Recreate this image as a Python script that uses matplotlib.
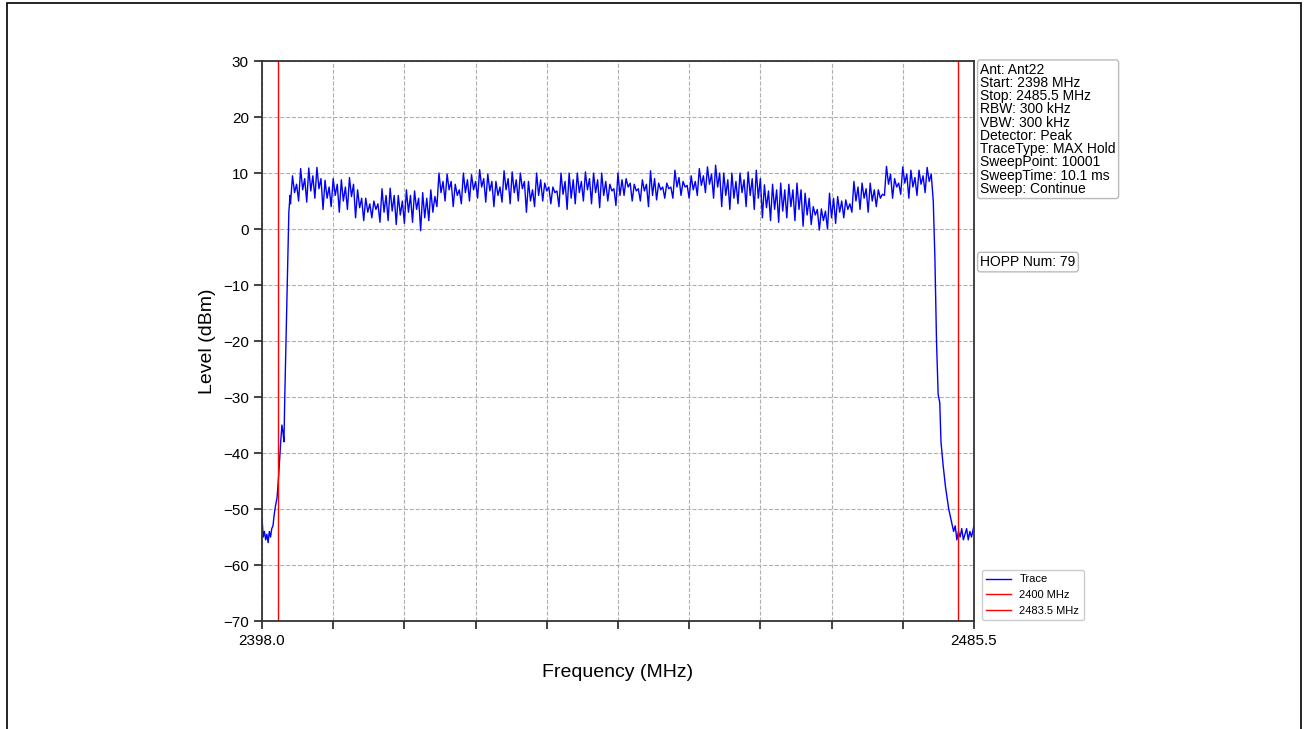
import numpy as np
import matplotlib
matplotlib.use('Agg')
import matplotlib.pyplot as plt
from matplotlib.patches import Rectangle

plt.rcParams['font.family'] = ['Liberation Sans', 'DejaVu Sans']

# hopping channels 2402..2480 MHz, levels read per channel (dBm)
ch_freq = list(range(2402, 2481))
ch_hi = [9.5, 10.8, 10.9, 11.0, 8.7, 9.0, 8.8, 9.2, 7.0, 5.5,
         5.0, 7.2, 7.3, 6.0, 7.0, 6.8, 6.5, 7.0, 10.0, 9.8,
         8.0, 10.0, 9.7, 10.6, 9.8, 8.5, 10.4, 10.2, 10.0, 8.5,
         10.0, 8.2, 7.5, 10.0, 10.0, 10.0, 10.2, 10.0, 10.0, 8.0,
         10.0, 9.0, 8.0, 8.8, 10.4, 8.2, 8.2, 10.5, 8.5, 9.5,
         10.8, 11.1, 11.4, 10.0, 10.0, 10.0, 10.2, 10.5, 7.9, 8.0,
         8.2, 8.0, 8.2, 6.4, 4.0, 3.6, 6.4, 5.8, 5.2, 8.5,
         8.2, 8.2, 7.0, 11.2, 9.0, 11.1, 10.5, 10.5, 11.0]
ch_lo = [4.5, 5.0, 4.8, 5.5, 3.5, 4.0, 3.0, 3.5, 2.0, 1.5,
         2.0, 1.2, 1.5, 0.8, 1.0, 1.2, -0.3, 1.5, 4.0, 5.0,
         4.0, 4.5, 5.0, 5.5, 4.8, 4.0, 4.8, 4.5, 5.0, 3.0,
         4.0, 5.0, 4.5, 4.0, 3.5, 4.5, 5.0, 4.5, 3.8, 5.0,
         4.2, 6.0, 5.0, 5.0, 4.0, 5.2, 5.5, 5.5, 6.0, 5.5,
         6.0, 6.5, 5.5, 4.0, 3.5, 4.5, 4.0, 3.5, 2.0, 1.5,
         1.2, 2.0, 1.5, 0.5, 0.8, -0.2, 0.0, 1.0, 2.0, 3.0,
         3.5, 3.0, 4.0, 6.0, 5.5, 6.2, 5.5, 6.0, 6.5]
ch_dip = [6.5, 7.0, 6.8, 7.2, 5.5, 6.0, 5.0, 5.8, 3.8, 3.0,
          3.5, 3.0, 3.2, 2.5, 3.0, 3.5, 2.0, 3.0, 6.5, 7.0,
          6.0, 6.5, 7.0, 7.5, 6.8, 6.0, 7.0, 6.5, 7.2, 5.0,
          6.0, 6.8, 6.5, 6.2, 5.5, 6.5, 7.0, 6.5, 6.0, 6.8,
          6.0, 7.5, 6.8, 6.8, 6.0, 7.0, 7.2, 7.5, 7.5, 7.0,
          7.8, 8.0, 7.5, 6.0, 5.5, 6.5, 6.0, 5.5, 3.8, 3.5,
          3.2, 4.0, 3.5, 2.5, 2.5, 1.5, 2.0, 3.0, 3.5, 5.0,
          5.5, 5.0, 5.5, 8.0, 7.5, 8.2, 7.5, 8.0, 8.5]
ch_sub = [8.0, 9.0, 9.5, 9.0, 7.5, 8.0, 7.5, 8.0, 5.5, 4.5,
          4.5, 6.0, 6.0, 5.0, 6.0, 5.5, 5.5, 5.8, 8.5, 8.5,
          7.0, 8.8, 8.5, 9.0, 8.5, 7.5, 9.0, 8.8, 8.5, 7.0,
          8.8, 7.5, 6.8, 8.5, 8.8, 8.5, 9.0, 8.8, 8.5, 7.2,
          8.8, 8.2, 7.2, 8.0, 9.0, 7.5, 7.5, 9.2, 7.8, 8.5,
          9.5, 9.8, 10.0, 8.8, 8.5, 8.8, 9.0, 9.0, 6.8, 7.0,
          7.0, 7.0, 7.0, 5.5, 3.5, 3.2, 5.5, 5.0, 4.5, 7.5,
          7.2, 7.0, 6.2, 9.8, 8.2, 9.8, 9.2, 9.5, 9.8]

# band edges (noise floor and skirts)
left_freq = [2398.0, 2398.15, 2398.3, 2398.45, 2398.6, 2398.75, 2398.9, 2399.05,
             2399.2, 2399.35, 2399.5, 2399.65, 2399.85, 2400.05, 2400.3, 2400.45,
             2400.6, 2400.7, 2400.8, 2400.95, 2401.1, 2401.3, 2401.45]
left_lvl = [-51.5, -55.0, -54.0, -55.5, -54.5, -56.0, -54.0, -55.0,
            -53.5, -53.0, -51.0, -49.5, -48.0, -44.0, -38.0, -35.0,
            -36.5, -38.0, -30.0, -20.0, -10.0, 3.0, 6.0]
right_freq = [2480.5, 2480.7, 2480.9, 2481.1, 2481.3, 2481.45, 2481.7, 2482.0,
              2482.4, 2482.7, 2483.0, 2483.2, 2483.4, 2483.6, 2483.8, 2484.0,
              2484.2, 2484.4, 2484.6, 2484.8, 2485.0, 2485.2, 2485.5]
right_lvl = [5.0, -5.0, -20.0, -29.5, -31.0, -38.0, -42.0, -46.0,
             -50.0, -52.0, -54.0, -53.0, -55.5, -54.0, -55.0, -53.5,
             -55.5, -54.5, -53.5, -55.5, -54.0, -55.0, -53.0]

info = ['Ant: Ant22', 'Start: 2398 MHz', 'Stop: 2485.5 MHz', 'RBW: 300 kHz',
        'VBW: 300 kHz', 'Detector: Peak', 'TraceType: MAX Hold',
        'SweepPoint: 10001', 'SweepTime: 10.1 ms', 'Sweep: Continue']
hopp_num = 79

trace_f = list(left_freq)
trace_l = list(left_lvl)
for f, lo, hi, dip, sub in zip(ch_freq, ch_lo, ch_hi, ch_dip, ch_sub):
    trace_f += [f - 0.5, f - 0.25, f, f + 0.25]
    trace_l += [lo, hi, dip, sub]
trace_f += right_freq
trace_l += right_lvl

fig = plt.figure(figsize=(13.08, 7.29), dpi=100)
ax = fig.add_axes([0.2003, 0.1481, 0.5443, 0.7682])

ax.plot(trace_f, trace_l, color='blue', lw=1.0, label='Trace')
ax.axvline(2400, color='red', lw=1, label='2400 MHz')
ax.axvline(2483.5, color='red', lw=1, label='2483.5 MHz')

ax.set_xlim(2398, 2485.5)
ax.set_ylim(-70, 30)
xt = np.linspace(2398, 2485.5, 11)
ax.set_xticks(xt)
ax.set_xticklabels(['2398.0'] + [''] * 9 + ['2485.5'])
ax.set_yticks(range(-70, 31, 10))
ax.grid(True, ls='--', color='#b0b0b0', lw=0.8)
ax.tick_params(labelsize=11, width=1.3, length=6, color='#333333')
for s in ax.spines.values():
    s.set_linewidth(1.3)
    s.set_color('#333333')

ax.set_xlabel('Frequency (MHz)', fontsize=14, labelpad=11)
ax.set_ylabel('Level (dBm)', fontsize=14, labelpad=5)

box = dict(boxstyle='round,pad=0.2', fc='white', ec='#bbbbbb', lw=1)
ax.text(1.009, 0.997, '\n'.join(info), transform=ax.transAxes, fontsize=10,
        va='top', ha='left', linespacing=0.93, bbox=box)
ax.text(1.009, 0.641, 'HOPP Num: %d' % hopp_num, transform=ax.transAxes,
        fontsize=10, va='center', ha='left', bbox=box)

ax.legend(loc='lower left', bbox_to_anchor=(1.003, -0.008), fontsize=8,
          framealpha=1, edgecolor='#cccccc', handlelength=2.2)

fig.patches.append(Rectangle((7 / 1308, -0.01), 1294 / 1308, 1.01 - 3 / 729,
                             transform=fig.transFigure, fill=False,
                             ec='black', lw=1.2))

fig.savefig('out.png', dpi=100)
